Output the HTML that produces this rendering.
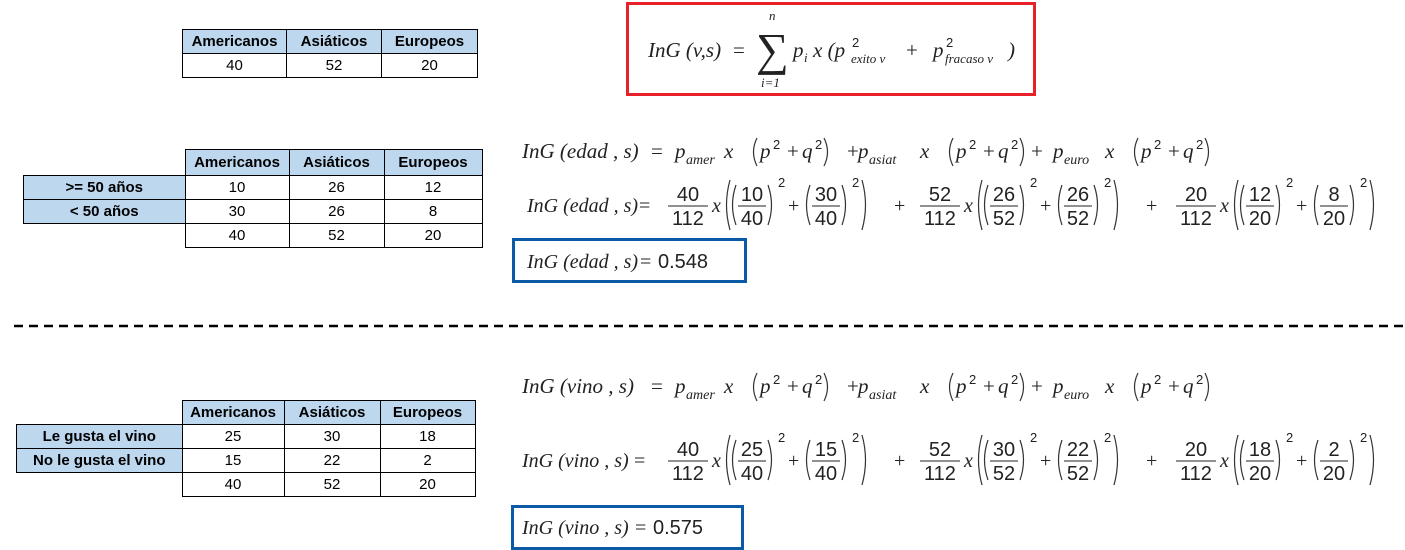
<!DOCTYPE html>
<html><head><meta charset="utf-8">
<style>
body{margin:0;width:1405px;height:550px;background:#fff;position:relative;overflow:hidden;font-family:"Liberation Sans",sans-serif;}
table{position:absolute;border-collapse:collapse;font-size:15px;color:#000;}
td{border:1px solid #000;text-align:center;padding:0;height:23px;}
td.h{background:#bdd7ee;font-weight:bold;}
td.e{border:none;}
.box{position:absolute;box-sizing:border-box;}
svg{position:absolute;left:0;top:0;}
svg text{font-family:"Liberation Serif",serif;fill:#222;}
.i{font-style:italic;}
.n{font-family:"Liberation Sans",sans-serif !important;}
</style></head><body>
<table style="left:182px;top:29px;">
<tr><td class="h" style="width:103px">Americanos</td><td class="h" style="width:94px">Asiáticos</td><td class="h" style="width:95px">Europeos</td></tr>
<tr><td>40</td><td>52</td><td>20</td></tr></table>

<table style="left:23px;top:149px;">
<tr style="height:26px"><td class="e" style="width:161px"></td><td class="h" style="width:103px">Americanos</td><td class="h" style="width:94px">Asiáticos</td><td class="h" style="width:97px">Europeos</td></tr>
<tr><td class="h">&gt;= 50 años</td><td>10</td><td>26</td><td>12</td></tr>
<tr><td class="h">&lt; 50 años</td><td>30</td><td>26</td><td>8</td></tr>
<tr><td class="e"></td><td>40</td><td>52</td><td>20</td></tr></table>

<table style="left:16px;top:400px;">
<tr><td class="e" style="width:165px"></td><td class="h" style="width:101px">Americanos</td><td class="h" style="width:95px">Asiáticos</td><td class="h" style="width:94px">Europeos</td></tr>
<tr><td class="h">Le gusta el vino</td><td>25</td><td>30</td><td>18</td></tr>
<tr><td class="h">No le gusta el vino</td><td>15</td><td>22</td><td>2</td></tr>
<tr><td class="e"></td><td>40</td><td>52</td><td>20</td></tr></table>

<div class="box" style="left:626px;top:2px;width:410px;height:94px;border:3px solid #e8202a;"></div>
<div class="box" style="left:512px;top:238px;width:235px;height:45px;border:3px solid #0b5aa5;"></div>
<div class="box" style="left:511px;top:505px;width:233px;height:45px;border:3px solid #0b5aa5;"></div>

<svg width="1405" height="550" id="s">
<line x1="14" y1="326" x2="1405" y2="326" stroke="#000" stroke-width="2.5" stroke-dasharray="9,6"/>
<g>
<text x="648" y="57" font-size="21" class="i">InG (v,s)</text>
<text x="733" y="57" font-size="21">=</text>
<text x="756" y="65" font-size="46">∑</text>
<text x="769" y="20" font-size="13" class="i">n</text>
<text x="761" y="87" font-size="13" class="i">i=1</text>
<text x="793" y="57" font-size="21" class="i">p</text>
<text x="804" y="62" font-size="13" class="i">i</text>
<text x="813" y="57" font-size="21" class="i">x (p</text>
<text x="852" y="47" font-size="13" class="n">2</text>
<text x="851" y="63" font-size="13" class="i">exito v</text>
<text x="906" y="57" font-size="21">+</text>
<text x="933" y="57" font-size="21" class="i">p</text>
<text x="946" y="47" font-size="13" class="n">2</text>
<text x="945" y="63" font-size="13" class="i">fracaso v</text>
<text x="1008" y="57" font-size="21" class="i">)</text>
</g>
<g id="eq"></g>
</svg>
<script>
const g=document.getElementById('eq');
const NS='http://www.w3.org/2000/svg';
function t(x,y,s,size,cls,anchor){const e=document.createElementNS(NS,'text');e.setAttribute('x',x);e.setAttribute('y',y);e.setAttribute('font-size',size);if(cls)e.setAttribute('class',cls);if(anchor)e.setAttribute('text-anchor',anchor);e.textContent=s;


g.appendChild(e);return e;}
function frac(cx,cy,a,b,w){t(cx,cy-4,a,20,'n','middle');t(cx,cy+20,b,20,'n','middle');const l=document.createElementNS(NS,'line');l.setAttribute('x1',cx-w/2);l.setAttribute('x2',cx+w/2);l.setAttribute('y1',cy+1);l.setAttribute('y2',cy+1);l.setAttribute('stroke','#222');


g.appendChild(l);}
function paren(x,cy,h,open){const w=6;const p=document.createElementNS(NS,'path');
const d=open?`M${x+w},${cy-h/2} Q${x-1},${cy} ${x+w},${cy+h/2}`:`M${x},${cy-h/2} Q${x+w+1},${cy} ${x},${cy+h/2}`;
p.setAttribute('d',d);p.setAttribute('fill','none');p.setAttribute('stroke','#333');p.setAttribute('stroke-width','1.2');


g.appendChild(p);}
function line1(y,v){
 t(522,y,'InG ('+v+' , s)',21,'i');t(651,y,'=',21);
 const ps=[675,858,1053];
 const subs=['amer','asiat','euro'];
 const xs=[724,920,1105];
 const plus=[847,1031];
 ps.forEach((p,k)=>{
  t(p,y,'p',21,'i');t(p+11,y+6,subs[k],14,'i');
  const A=xs[k];
  t(A,y,'x',21,'i');paren(A+27,y-6,28,true);t(A+36,y,'p',21,'i');t(A+49,y-9,'2',13,'n');
  t(A+63,y,'+',21);t(A+78,y,'q',21,'i');t(A+91,y-9,'2',13,'n');paren(A+100,y-6,28,false);
  if(k<2)t(plus[k],y,'+',21);
 });}
function line2(y,lab,v,a,b,c){
 t(lab,y+7,'InG ('+v+' , s)',20,'i');t(lab+112,y+7,'=',20);
 const fr=[[688,'40','112'],[940,'52','112'],[1196,'20','112']];
 const pairs=[a,b,c];
 fr.forEach((f,k)=>{frac(f[0],y,f[1],f[2],40);
  const x=f[0]+24;t(x,y+7,'x',20,'i');
  paren(x+12,y,50,true);
  const p=pairs[k];
  paren(x+18,y,40,true);frac(x+40,y,p[0],p[2],28);paren(x+56,y,40,false);t(x+66,y-18,'2',13,'n');
  t(x+76,y+7,'+',20);
  paren(x+92,y,40,true);frac(x+114,y,p[1],p[2],28);paren(x+130,y,40,false);t(x+140,y-18,'2',13,'n');
  paren(x+150,y,50,false);
  if(k<2)t(x+182,y+7,'+',20);
 });}
line1(158,'edad');
line2(205,527,'edad',['10','30','40'],['26','26','52'],['12','8','20']);
t(527,268,'InG (edad , s)',20,'i');t(640,268,'=',20);t(658,268,'0.548',20,'n');
line1(393,'vino');
line2(460,522,'vino',['25','15','40'],['30','22','52'],['18','2','20']);
t(522,534,'InG (vino , s)',20,'i');t(635,534,'=',20);t(653,534,'0.575',20,'n');
</script>
</body></html>
